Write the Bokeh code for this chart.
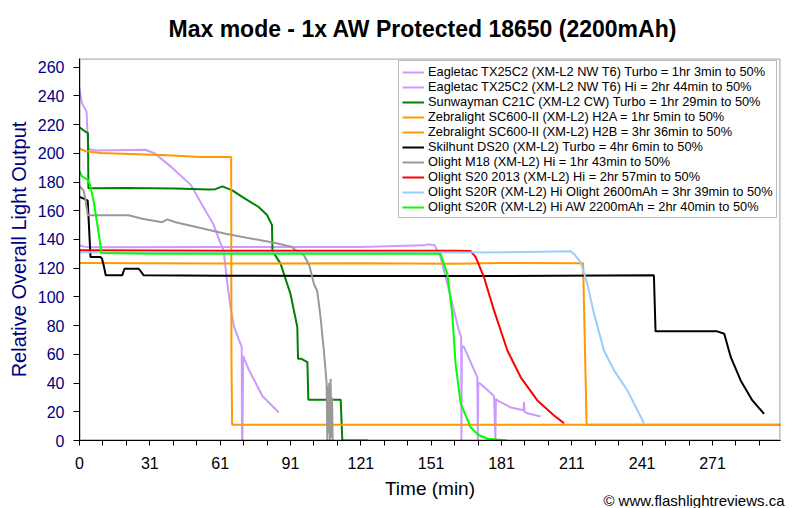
from bokeh.plotting import figure
from bokeh.models import FixedTicker, Legend, LegendItem, Range1d, Title, BoxAnnotation
from bokeh.embed import file_html
from bokeh.resources import INLINE

title_text = "Max mode - 1x AW Protected 18650 (2200mAh)"
x_label = "Time (min)"
y_label = "Relative Overall Light Output"
credit = "\u00a9 www.flashlightreviews.ca"

x_ticks = [0, 30, 60, 90, 120, 150, 180, 210, 240, 270]
x_tick_labels = ["0", "31", "61", "91", "121", "151", "181", "211", "241", "271"]
x_minor_ticks = [10, 20, 40, 50, 70, 80, 100, 110, 130, 140, 160, 170, 190, 200,
                 220, 230, 250, 260, 280, 290]
y_ticks = [0, 20, 40, 60, 80, 100, 120, 140, 160, 180, 200, 220, 240, 260]

names = [
    "Eagletac TX25C2 (XM-L2 NW T6) Turbo = 1hr 3min to 50%",
    "Eagletac TX25C2 (XM-L2 NW T6) Hi = 2hr 44min to 50%",
    "Sunwayman C21C (XM-L2 CW) Turbo = 1hr 29min to 50%",
    "Zebralight SC600-II (XM-L2) H2A = 1hr 5min to 50%",
    "Zebralight SC600-II (XM-L2) H2B = 3hr 36min to 50%",
    "Skilhunt DS20 (XM-L2) Turbo = 4hr 6min to 50%",
    "Olight M18 (XM-L2) Hi = 1hr 43min to 50%",
    "Olight S20 2013 (XM-L2) Hi = 2hr 57min to 50%",
    "Olight S20R (XM-L2) Hi Olight 2600mAh = 3hr 39min to 50%",
    "Olight S20R (XM-L2) Hi AW 2200mAh = 2hr 40min to 50%",
]
colors = ["#CC99FF", "#CC99FF", "#008000", "#FF9900", "#FF9900",
          "#000000", "#999999", "#FF0000", "#99CCFF", "#00FF00"]

et_turbo_t = [0, 1, 3, 3.7, 7, 28, 32, 39.5, 47.5, 53, 57, 60, 61.5, 63, 64.4, 65.8,
              68, 69.2, 69.3, 69.5, 69.8, 72, 75.8, 78, 85]
et_turbo_y = [245, 235, 229, 203, 202, 202.5, 200, 190, 178, 162, 151, 138, 132, 110, 93, 80,
              70, 65, 0, 0, 59, 50, 38, 31, 19.5]

et_hi_t = [0, 2, 5, 60, 120, 147, 148.3, 151.5, 154, 156, 158.3, 161.8, 162.8, 162.9, 163.1,
           164, 169.7, 169.9, 170.1, 171, 176.8, 177.4, 177.6, 178.2, 183.9, 189.4, 189.6,
           189.8, 191, 196.7]
et_hi_y = [136, 135, 134.5, 134.7, 134.8, 135.9, 136.6, 135.9, 127.7, 115, 100, 76.7, 72, 0, 66,
           65, 44, 0, 40, 39.5, 31, 0, 29, 28, 23, 21, 26.7, 20, 19, 16.7]

sw_t = [0, 2.6, 3.6, 3.8, 20, 41, 55.2, 58, 60.9, 65.2, 69.4, 76.4, 80, 82.1, 82.3, 85.8,
        90, 92.9, 93.2, 94.5, 97.2, 97.6, 111.4, 112.1, 123]
sw_y = [218, 215, 214, 175.6, 175.8, 175.4, 174.7, 175, 177, 174.2, 169.6, 162.6, 157, 150,
        132, 123, 102, 79, 57, 57, 54.6, 28.4, 28.4, 0, 0]

zb_a_t = [0, 2.6, 9, 37.4, 51.6, 64.7, 64.8, 65.1, 299]
zb_a_y = [203.3, 201.4, 200.2, 198.6, 197.4, 197.4, 58, 11, 11]

zb_b_t = [0, 60, 120, 160, 180, 214.8, 216.3, 299]
zb_b_y = [123.6, 123.3, 123.4, 123.1, 123.6, 123.5, 11, 11]

sk_t = [0, 1.8, 3.5, 4.7, 9, 9.6, 10.3, 11.2, 18.2, 19.2, 25.3, 27.4, 60, 120, 180, 245,
        245.7, 272, 275, 277.8, 282, 287, 292]
sk_y = [169.6, 168.4, 167, 127.7, 127.7, 126.6, 122, 115, 115, 119.6, 119.6, 115, 114.8,
        114.6, 114.6, 115, 76, 76, 74.3, 58, 41.8, 27.9, 18.6]

m18_t = [0, 1.8, 2.6, 3.5, 4, 21, 26.7, 35.3, 37.4, 41, 62.3, 83.6, 90.7, 91.4, 95.7, 98,
         100, 101.4, 102.8, 104.2, 105.4, 105.7, 105.9, 106.2, 106.5, 106.8, 107.1, 107.4,
         107.7, 108, 108.4]
m18_y = [177, 174, 167, 157, 156.8, 156.8, 154.4, 152, 154, 152, 144, 137.5, 134.7, 133.5, 129,
         122, 109, 104, 86, 63, 40, 0, 38, 5, 40, 0, 43, 2, 30, 0, 0]

s20_t = [0, 60, 120, 160, 166.8, 169, 172.5, 176.8, 182.5, 188.2, 195.3, 202.4, 206.7]
s20_y = [132.5, 132.2, 132.2, 132.2, 131.9, 127.7, 113.8, 90.6, 62.7, 44, 27.9, 17.4, 12]

s20r_t = [0, 60, 120, 180, 209.5, 210.9, 213.8, 216.6, 219.5, 223.7, 228, 233.7, 238, 240.8]
s20r_y = [131, 130.8, 130.8, 131, 131.7, 130, 124, 109, 88, 62.7, 48.8, 34.8, 21, 12]

aw_t = [0, 1, 3.5, 4.5, 6, 8.2, 9.4, 30, 60, 100, 154, 156.9, 159, 160.4, 162.6, 166.8,
        170, 174, 182.5]
aw_y = [187.5, 184, 181.5, 178, 167, 144, 130.5, 130, 130, 130, 130, 116, 88, 53.4, 25.6,
        9.3, 4, 1.2, 0]

series_t = [et_turbo_t, et_hi_t, sw_t, zb_a_t, zb_b_t, sk_t, m18_t, s20_t, s20r_t, aw_t]
series_y = [et_turbo_y, et_hi_y, sw_y, zb_a_y, zb_b_y, sk_y, m18_y, s20_y, s20r_y, aw_y]

FONT = "Liberation Sans"
NAVY = "#000080"

p = figure(width=800, height=508, output_backend="svg", toolbar_location=None,
           x_range=Range1d(0, 299), y_range=Range1d(0, 266),
           min_border_left=79, min_border_right=20, min_border_top=58, min_border_bottom=68)
p.background_fill_color = "white"
p.border_fill_color = "white"
p.outline_line_color = None
p.xgrid.visible = False
p.ygrid.visible = False
p.styles = {"outline": "2px solid #6e6e6e", "outline-offset": "-4px"}

p.title.text = title_text
p.title.align = "left"
p.title.offset = 89
p.title.vertical_align = "top"
p.title.standoff = 29
p.title.text_font = FONT
p.title.text_font_size = "23px"
p.title.text_font_style = "bold"
p.title.text_color = "black"

xa = p.xaxis[0]
xa.ticker = FixedTicker(ticks=x_ticks, minor_ticks=x_minor_ticks)
xa.major_label_overrides = {t: l for t, l in zip(x_ticks, x_tick_labels)}
xa.major_tick_in = 0
xa.major_tick_out = 5
xa.minor_tick_in = 0
xa.minor_tick_out = 5
xa.major_tick_line_color = "black"
xa.minor_tick_line_color = "black"
xa.axis_line_color = "black"
xa.major_label_text_font = FONT
xa.major_label_text_font_size = "16px"
xa.major_label_text_color = "black"
xa.major_label_standoff = 11
xa.axis_label = x_label
xa.axis_label_text_font = FONT
xa.axis_label_text_font_size = "19px"
xa.axis_label_text_font_style = "normal"
xa.axis_label_text_color = "black"
xa.axis_label_standoff = 6

ya = p.yaxis[0]
ya.ticker = FixedTicker(ticks=y_ticks, minor_ticks=[])
ya.major_tick_in = 0
ya.major_tick_out = 6
ya.major_tick_line_color = "black"
ya.axis_line_color = "black"
ya.major_label_text_font = FONT
ya.major_label_text_font_size = "16px"
ya.major_label_text_color = NAVY
ya.major_label_standoff = 9
ya.axis_label = y_label
ya.axis_label_text_font = FONT
ya.axis_label_text_font_size = "20px"
ya.axis_label_text_font_style = "normal"
ya.axis_label_text_color = NAVY
ya.axis_label_standoff = 5

credit_title = Title(text=credit, align="right", offset=-4, standoff=-19,
                     vertical_align="top",
                     text_font=FONT, text_font_size="15px", text_font_style="normal",
                     text_color="black")
p.add_layout(credit_title, "below")

items = []
for name, col, t, y in zip(names, colors, series_t, series_y):
    r = p.line(t, y, line_color=col, line_width=2)
    items.append(LegendItem(label=name, renderers=[r]))

p.add_layout(BoxAnnotation(fill_alpha=0, line_color="black", line_width=2.5))

legend = Legend(items=items, location=(319, 222))
legend.label_text_font = FONT
legend.label_text_font_size = "12.8px"
legend.label_text_color = "black"
legend.glyph_width = 22
legend.glyph_height = 14
legend.label_height = 14
legend.spacing = 0
legend.padding = 3
legend.margin = 0
legend.label_standoff = 4
legend.border_line_color = "#808080"
legend.border_line_width = 1
legend.background_fill_color = "white"
legend.background_fill_alpha = 1
p.add_layout(legend, "center")

open("out.html", "w").write(file_html(p, INLINE))
